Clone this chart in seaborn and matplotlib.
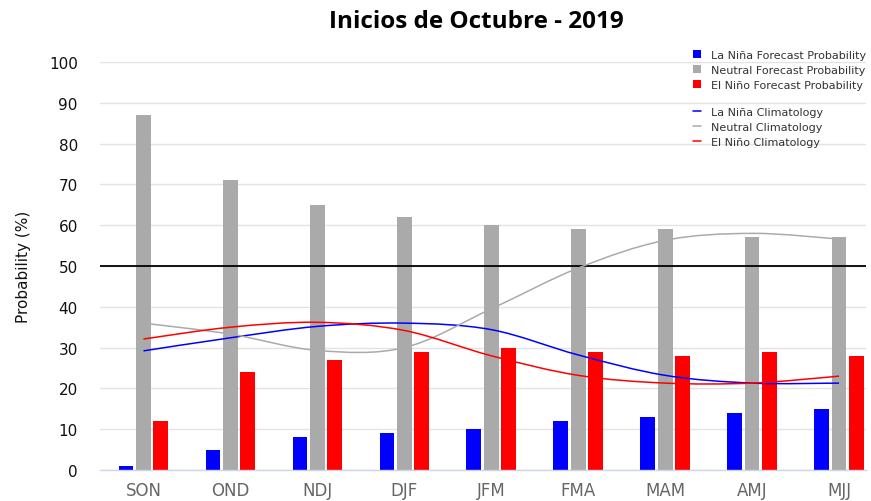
"""
ENSO probability forecast, early October 2019 (bars) with climatology curves.
"""
import numpy as np
import pandas as pd
import matplotlib
matplotlib.use("Agg")
import matplotlib.pyplot as plt
import seaborn as sns
from matplotlib.path import Path
from matplotlib.patches import PathPatch, Patch
from matplotlib.lines import Line2D

# --- Data ---
seasons = ["SON", "OND", "NDJ", "DJF", "JFM", "FMA", "MAM", "AMJ", "MJJ"]
la_nina_prob = [1, 5, 8, 9, 10, 12, 13, 14, 15]
neutral_prob = [87, 71, 65, 62, 60, 59, 59, 57, 57]
el_nino_prob = [12, 24, 27, 29, 30, 29, 28, 29, 28]

la_nina_clim = [29.2, 32.4, 35.2, 36.0, 34.4, 28.2, 23.2, 21.3, 21.3]
neutral_clim = [36.0, 33.3, 29.3, 30.0, 39.5, 49.5, 56.3, 58.0, 56.6]
el_nino_clim = [32.1, 35.0, 36.2, 34.2, 28.0, 23.2, 21.3, 21.3, 23.0]

bar_labels = ["La Niña Forecast Probability", "Neutral Forecast Probability",
              "El Niño Forecast Probability"]
clim_labels = ["La Niña Climatology", "Neutral Climatology", "El Niño Climatology"]
colors = ["#0000ff", "#aaaaaa", "#ff0000"]

df = pd.DataFrame({
    "season": seasons * 3,
    "prob": la_nina_prob + neutral_prob + el_nino_prob,
    "type": [bar_labels[0]] * 9 + [bar_labels[1]] * 9 + [bar_labels[2]] * 9,
})


def spline_path(xs, ys):
    # smooth curve through the points (Catmull-Rom as cubic Bezier segments)
    pts = np.column_stack([xs, ys]).astype(float)
    n = len(pts)
    verts = [pts[0]]
    codes = [Path.MOVETO]
    for i in range(n - 1):
        p0 = pts[i - 1] if i > 0 else pts[i]
        p1 = pts[i]
        p2 = pts[i + 1]
        p3 = pts[i + 2] if i + 2 < n else pts[i + 1]
        c1 = p1 + (p2 - p0) / 6.0
        c2 = p2 - (p3 - p1) / 6.0
        verts += [c1, c2, p2]
        codes += [Path.CURVE4] * 3
    return Path(verts, codes)


# --- Plot ---
sns.set_theme(style="white")
plt.rcParams["font.family"] = ["DejaVu Sans"]

fig = plt.figure(figsize=(8.71, 5.02), dpi=100)
ax = fig.add_axes([100 / 871, 31 / 502, 766 / 871, 408 / 502])

sns.barplot(data=df, x="season", y="prob", hue="type", hue_order=bar_labels,
            palette=colors, width=0.6, gap=0.15, linewidth=0, saturation=1,
            legend=False, ax=ax)

xpos = np.arange(len(seasons))
for vals, col in zip([la_nina_clim, neutral_clim, el_nino_clim], colors):
    ax.add_patch(PathPatch(spline_path(xpos, vals), facecolor="none",
                           edgecolor=col, lw=1.1, zorder=4))

ax.axhline(50, color="black", lw=1.3, zorder=3)

ax.set_ylim(0, 100)
ax.set_xlim(-0.5, 8.31)
ax.set_yticks(range(0, 101, 10))
ax.grid(axis="y", color="#e3e3e3", lw=1)
ax.set_axisbelow(True)
for side in ["top", "right", "left"]:
    ax.spines[side].set_visible(False)
ax.spines["bottom"].set_color("#ccd6eb")
ax.spines["bottom"].set_linewidth(1)
ax.tick_params(axis="both", length=0)
ax.tick_params(axis="x", labelsize=12, labelcolor="#666666", pad=8)
ax.tick_params(axis="y", labelsize=11, labelcolor="#111111", pad=16)
ax.set_xlabel("")
ax.set_ylabel("Probability (%)", fontsize=11, color="#111111", labelpad=13)

fig.text(476 / 871, 1 - 22 / 502, "Inicios de Octubre - 2019", ha="center",
         va="center", fontsize=17.5, fontweight="bold", family="Open Sans",
         color="black")

bar_handles = [Patch(facecolor=c, edgecolor="none") for c in colors]
leg1 = fig.legend(bar_handles, bar_labels, loc="upper left",
                  bbox_to_anchor=(693 / 871, 1 - 51 / 502), frameon=False,
                  fontsize=8, handlelength=0.75, handleheight=0.75,
                  handletextpad=0.85, labelspacing=0.45, borderaxespad=0,
                  borderpad=0)
line_handles = [Line2D([], [], color=c, lw=1.1) for c in colors]
leg2 = fig.legend(line_handles, clim_labels, loc="upper left",
                  bbox_to_anchor=(693 / 871, 1 - 108 / 502), frameon=False,
                  fontsize=8, handlelength=0.75, handletextpad=0.85,
                  labelspacing=0.45, borderaxespad=0, borderpad=0)
for t in leg1.get_texts() + leg2.get_texts():
    t.set_color("#333333")

fig.savefig("out.png", dpi=100)
